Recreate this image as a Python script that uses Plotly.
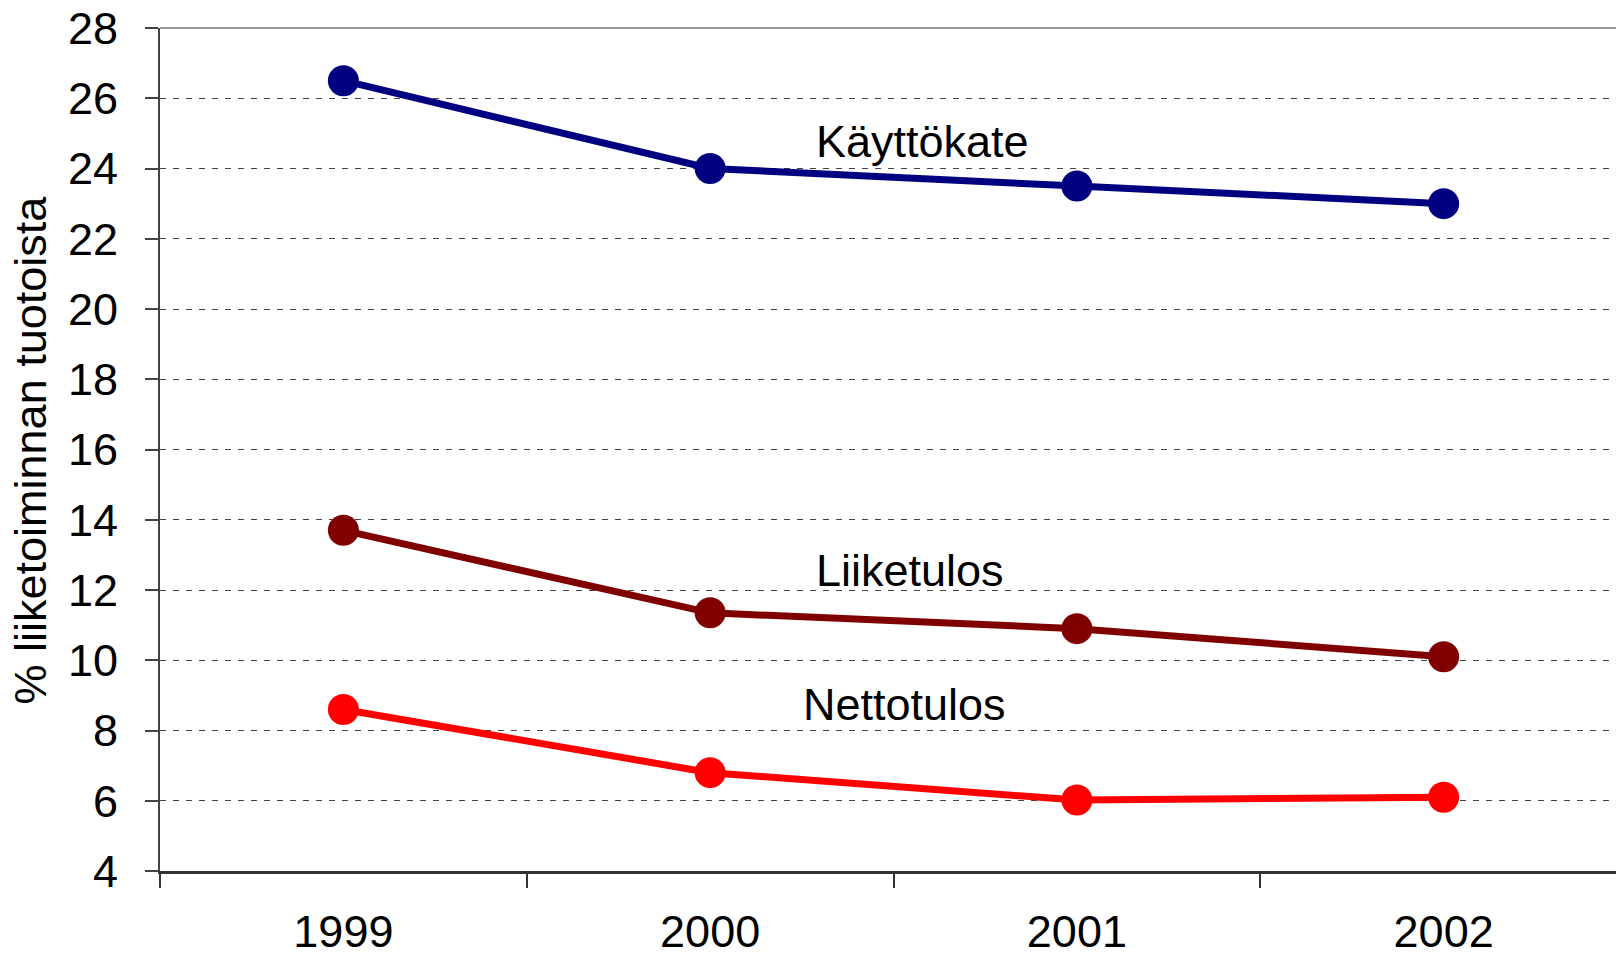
import plotly.graph_objects as go

years = ["1999", "2000", "2001", "2002"]
kayttokate = [26.5, 24.0, 23.5, 23.0]
liiketulos = [13.7, 11.35, 10.9, 10.1]
nettotulos = [8.6, 6.8, 6.02, 6.1]
y_title = "% liiketoiminnan tuotoista"

series = [
    ("Käyttökate", kayttokate, "#000080"),
    ("Liiketulos", liiketulos, "#800000"),
    ("Nettotulos", nettotulos, "#FF0000"),
]

label_pos = [  # label x (category index), y value
    (1.58, 24.78),
    (1.545, 12.56),
    (1.53, 8.73),
]

FONT = "Liberation Sans, Arial, sans-serif"
FS = 45

fig = go.Figure()
for name, vals, col in series:
    fig.add_trace(go.Scatter(
        x=years, y=vals, mode="lines+markers", name=name,
        line=dict(color=col, width=7),
        marker=dict(color=col, size=31),
        showlegend=False,
    ))

for (name, _, _), (lx, ly) in zip(series, label_pos):
    fig.add_annotation(x=lx, y=ly, text=name, showarrow=False,
                       xref="x", yref="y",
                       font=dict(size=FS, color="black", family=FONT))

# y-axis title placed as rotated text
fig.add_annotation(x=-0.0886, y=0.5, xref="paper", yref="paper", text=y_title,
                   textangle=-90, showarrow=False, xanchor="center", yanchor="middle",
                   font=dict(size=FS, color="black", family=FONT))

fig.add_shape(type="line", xref="paper", yref="paper", x0=0, x1=1, y0=1, y1=1,
              line=dict(color="#999999", width=2))

fig.update_layout(
    width=1616, height=958,
    margin=dict(l=160, r=0, t=28, b=87),
    paper_bgcolor="white", plot_bgcolor="white",
    font=dict(family=FONT, size=FS, color="black"),
    xaxis=dict(
        type="category", range=[-0.5, 3.47], automargin=False,
        tickson="boundaries", ticks="outside", ticklen=14, tickwidth=1.5,
        tickcolor="#333333", showgrid=False,
        showline=True, linecolor="#333333", linewidth=2.5,
        tickfont=dict(size=FS), ticklabelstandoff=19,
    ),
    yaxis=dict(
        range=[4, 28], dtick=2, tick0=4, automargin=False,
        ticks="outside", ticklen=13, tickwidth=1.5, tickcolor="#444444",
        showline=True, linecolor="#444444", linewidth=2,
        showgrid=True, gridcolor="#444444", gridwidth=1, griddash="6px,7px",
        zeroline=False, tickfont=dict(size=FS), ticklabelstandoff=18,
    ),
)

fig.write_html("out.html", config={"displayModeBar": False},
               post_script="document.body.style.margin='0';document.body.style.overflow='hidden';")
